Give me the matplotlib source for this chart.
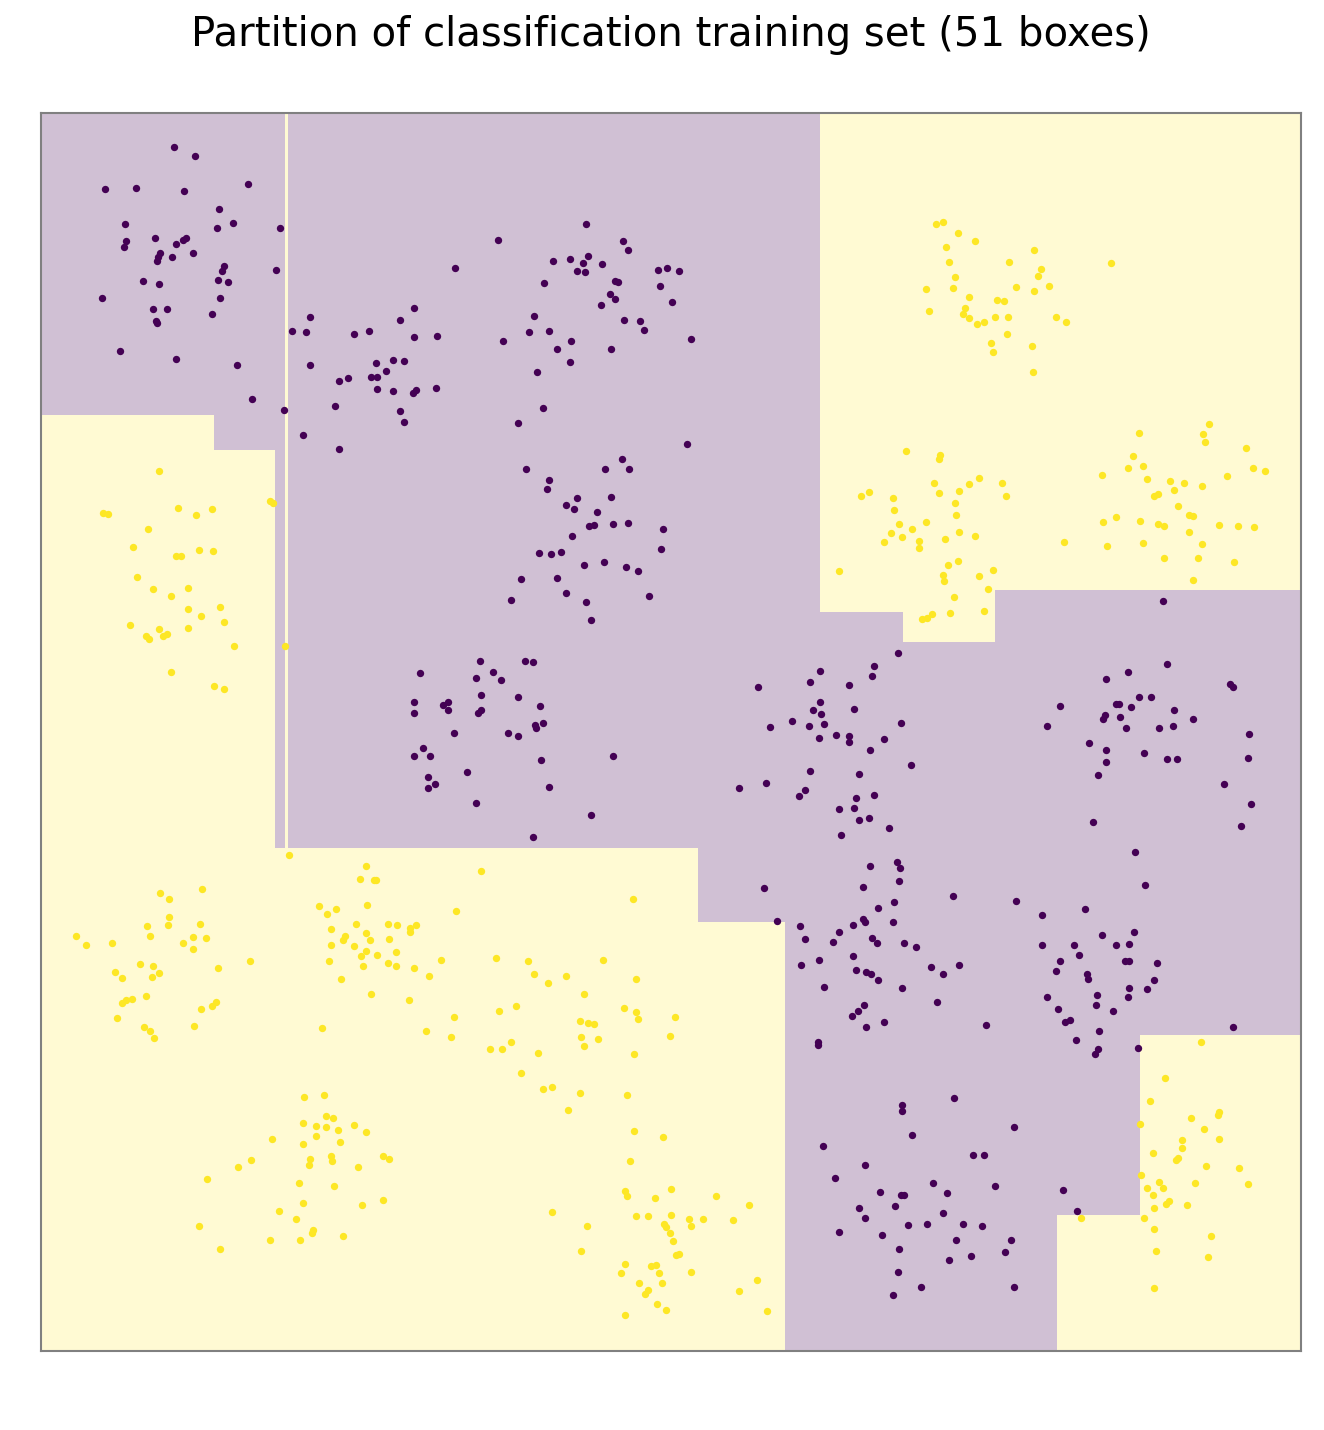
import numpy as np
import matplotlib.pyplot as plt
from matplotlib.patches import Rectangle
from matplotlib.colors import to_rgb

# Feature space (x to the right, y downwards)
x_range = (41, 1301)
y_range = (1351, 113)

# class 0 (purple) training points
purple_pts = [
    # top-left cluster
    (174, 147), (195, 156), (105, 189), (136, 188), (184, 191), (248, 184), (219, 209), (125, 224),
    (233, 223), (217, 228), (280, 228), (155, 238), (126, 241), (124, 247), (186, 238), (183, 240),
    (176, 244), (160, 253), (158, 257), (157, 261), (172, 257), (193, 253), (224, 266), (222, 271),
    (276, 270), (218, 280), (228, 282), (143, 281), (159, 284), (102, 298), (220, 298), (153, 309),
    (167, 309), (212, 314), (156, 321), (157, 323), (120, 351), (176, 359), (237, 365), (252, 399),
    (284, 410),
    # second cluster
    (455, 268), (414, 308), (310, 317), (400, 320), (292, 331), (306, 332), (354, 334), (369, 331),
    (414, 337), (437, 336), (310, 365), (376, 363), (393, 360), (404, 361), (386, 371), (348, 378),
    (339, 381), (371, 377), (377, 377), (377, 389), (393, 391), (413, 393), (416, 390), (436, 388),
    (335, 406), (400, 411), (404, 422), (303, 435), (339, 449),
    # top middle cluster
    (586, 224), (498, 240), (623, 241), (628, 250), (553, 261), (570, 259), (588, 256), (583, 263),
    (602, 264), (577, 271), (585, 272), (658, 270), (667, 268), (679, 271), (615, 281), (618, 282),
    (544, 283), (660, 286), (610, 294), (615, 299), (601, 305), (672, 302), (534, 316), (624, 320),
    (640, 321), (644, 330), (529, 332), (549, 331), (503, 341), (571, 341), (691, 339), (557, 349),
    (611, 349), (570, 362), (537, 372), (543, 408), (518, 423),
    # middle cluster
    (687, 444), (622, 459), (526, 469), (605, 469), (629, 469), (549, 480), (547, 489), (577, 498),
    (611, 497), (566, 505), (574, 509), (597, 512), (589, 526), (594, 525), (613, 524), (628, 523),
    (663, 529), (572, 536), (539, 553), (551, 554), (561, 552), (661, 549), (584, 565), (604, 562),
    (626, 567), (638, 571), (521, 579), (557, 578), (566, 593), (511, 600), (586, 602), (649, 596),
    (591, 620),
    # middle-left cluster
    (420, 673), (414, 702), (414, 713), (443, 705), (448, 702), (448, 710), (454, 733), (423, 748),
    (414, 756), (430, 756), (428, 777), (435, 784), (428, 788), (480, 661), (525, 661), (533, 662),
    (493, 672), (476, 678), (501, 680), (481, 695), (518, 697), (540, 706), (478, 713), (481, 710),
    (535, 725), (543, 723), (536, 728), (508, 733), (518, 736), (541, 760), (613, 756), (467, 772),
    (549, 787), (476, 803), (591, 815), (533, 837),
    # centre cluster
    (898, 653), (901, 723), (758, 687), (820, 671), (810, 682), (849, 685), (820, 702), (813, 710),
    (821, 714), (854, 709), (792, 721), (770, 727), (809, 726), (824, 724), (874, 666), (872, 676),
    (819, 738), (836, 735), (849, 736), (849, 742), (870, 750), (810, 771), (859, 774), (739, 788),
    (766, 783), (805, 790), (799, 796), (856, 798), (874, 795), (839, 809), (854, 808), (859, 820),
    (869, 818), (841, 835), (884, 739), (911, 765), (889, 828),
    # right cluster
    (1163, 601), (1167, 664), (1128, 672), (1106, 679), (1230, 684), (1233, 687), (1139, 697),
    (1151, 697), (1060, 706), (1116, 704), (1119, 704), (1131, 707), (1174, 710), (1105, 715),
    (1103, 719), (1120, 717), (1193, 719), (1047, 726), (1126, 728), (1159, 728), (1173, 726),
    (1249, 734), (1089, 743), (1106, 750), (1106, 762), (1144, 753), (1167, 759), (1177, 759),
    (1248, 758), (1098, 775), (1224, 784), (1251, 804), (1241, 826), (1093, 822), (1135, 852),
    (1145, 885),
    # lower centre cluster
    (870, 866), (764, 888), (863, 887), (878, 908), (777, 921), (800, 926), (805, 939), (839, 932),
    (833, 942), (853, 925), (863, 919), (865, 922), (872, 938), (877, 943), (853, 956), (801, 965),
    (819, 960), (856, 970), (866, 972), (871, 974), (878, 980), (824, 987), (864, 1005), (858, 1011),
    (852, 1016), (866, 1027), (818, 1042), (897, 862), (900, 868), (899, 881), (953, 896), (894, 902),
    (893, 922), (904, 943), (916, 947), (931, 967), (959, 965), (943, 974), (902, 988), (937, 1002),
    (884, 1022), (986, 1025), (1016, 901),
    # lower right cluster
    (1085, 909), (1042, 915), (1134, 932), (1102, 935), (1042, 945), (1074, 945), (1116, 945),
    (1129, 944), (1079, 955), (1060, 961), (1125, 961), (1129, 961), (1157, 963), (1056, 971),
    (1087, 974), (1088, 979), (1154, 980), (1129, 988), (1147, 989), (1097, 995), (1128, 997),
    (1047, 997), (1096, 1005), (1058, 1009), (1113, 1011), (1065, 1022), (1070, 1020), (1099, 1031),
    (1233, 1027), (1076, 1040), (1098, 1049), (1095, 1054), (1138, 1048),
    # bottom cluster
    (818, 1045), (823, 1146), (865, 1165), (835, 1178), (880, 1192), (859, 1208), (865, 1218),
    (839, 1232), (882, 1235), (954, 1098), (902, 1105), (902, 1111), (1014, 1127), (912, 1135),
    (973, 1155), (984, 1155), (933, 1183), (995, 1186), (1063, 1190), (901, 1195), (904, 1195),
    (947, 1193), (895, 1206), (943, 1213), (1077, 1211), (908, 1225), (927, 1224), (963, 1224),
    (982, 1226), (956, 1240), (1011, 1240), (899, 1249), (1005, 1252), (971, 1256), (949, 1260),
    (898, 1272), (921, 1287), (1014, 1287), (893, 1295),
]

# class 1 (yellow) training points
yellow_pts = [
    # top right cluster
    (936, 224), (943, 222), (958, 233), (975, 241), (946, 247), (1034, 250), (949, 262), (1009, 262),
    (1041, 269), (1038, 276), (1111, 263), (955, 277), (926, 289), (953, 288), (1016, 287),
    (1049, 286), (1034, 291), (969, 297), (997, 300), (1004, 301), (929, 311), (965, 308), (963, 314),
    (969, 318), (977, 324), (984, 322), (995, 317), (1008, 317), (1056, 317), (1066, 322),
    (1007, 334), (991, 343), (993, 352), (1032, 346), (1033, 372),
    # right middle cluster
    (906, 451), (940, 455), (939, 459), (934, 483), (939, 493), (959, 491), (969, 484), (979, 478),
    (1002, 483), (1006, 496), (893, 498), (894, 510), (955, 503), (956, 515), (899, 524), (891, 533),
    (902, 537), (912, 529), (926, 522), (945, 539), (959, 532), (975, 536), (919, 541), (919, 548),
    (884, 542), (1064, 542), (958, 561), (948, 565), (943, 575), (944, 581), (979, 576), (993, 570),
    (988, 589), (954, 597), (922, 619), (927, 618), (932, 614), (950, 613), (984, 611), (861, 496),
    (869, 492), (839, 571),
    # far right cluster
    (1139, 433), (1203, 434), (1209, 424), (1205, 442), (1133, 456), (1128, 468), (1143, 466),
    (1102, 475), (1147, 479), (1170, 481), (1184, 483), (1202, 486), (1246, 448), (1227, 476),
    (1253, 468), (1265, 471), (1174, 490), (1154, 496), (1158, 494), (1178, 506), (1189, 515),
    (1193, 516), (1103, 522), (1116, 517), (1140, 521), (1158, 524), (1164, 526), (1189, 532),
    (1219, 525), (1238, 526), (1254, 527), (1107, 546), (1143, 543), (1202, 544), (1164, 558),
    (1198, 558), (1234, 562), (1193, 580),
    # left cluster
    (159, 471), (103, 513), (108, 514), (178, 508), (196, 515), (212, 509), (270, 501), (273, 503),
    (148, 529), (133, 547), (199, 550), (213, 551), (176, 556), (181, 556), (137, 577), (153, 589),
    (188, 588), (171, 596), (188, 609), (220, 607), (201, 616), (224, 622), (130, 625), (159, 629),
    (188, 628), (146, 636), (149, 639), (163, 636), (167, 634), (234, 646), (285, 646), (171, 672),
    (214, 686), (224, 689),
    # lower left cluster
    (289, 855), (202, 889), (160, 893), (169, 899), (169, 917), (168, 925), (147, 926), (200, 924),
    (76, 936), (150, 936), (193, 937), (206, 938), (86, 945), (112, 943), (183, 943), (193, 949),
    (250, 961), (140, 964), (153, 966), (218, 968), (115, 972), (122, 978), (152, 977), (159, 973),
    (146, 996), (122, 1003), (126, 1000), (132, 999), (201, 1009), (212, 1006), (216, 1002),
    (117, 1018), (194, 1026), (144, 1027), (150, 1031), (154, 1038),
    # second lower cluster
    (366, 866), (360, 879), (374, 880), (376, 880), (367, 905), (319, 906), (327, 914), (336, 909),
    (456, 911), (356, 924), (388, 924), (397, 925), (416, 925), (410, 928), (410, 932), (331, 929),
    (345, 936), (343, 940), (366, 933), (370, 940), (389, 939), (331, 945), (354, 946), (366, 951),
    (361, 956), (377, 955), (396, 952), (329, 961), (363, 966), (388, 963), (396, 966), (414, 968),
    (441, 960), (341, 979), (429, 976), (371, 994), (409, 1000), (454, 1017), (322, 1028),
    (426, 1031), (451, 1037),
    # lower middle cluster
    (481, 871), (633, 899), (496, 958), (528, 961), (603, 960), (534, 974), (548, 983), (566, 976),
    (636, 979), (584, 994), (499, 1011), (516, 1006), (624, 1008), (636, 1012), (638, 1019),
    (675, 1017), (580, 1021), (588, 1023), (594, 1024), (581, 1037), (598, 1039), (670, 1036),
    (511, 1042), (490, 1049), (502, 1049), (538, 1053), (584, 1046), (634, 1054), (521, 1073),
    (543, 1089), (552, 1087), (580, 1093), (627, 1095), (568, 1110), (634, 1131), (663, 1137),
    (630, 1161),
    # bottom left cluster
    (304, 1097), (324, 1095), (326, 1116), (333, 1118), (303, 1123), (316, 1126), (326, 1127),
    (338, 1130), (354, 1125), (366, 1132), (316, 1136), (272, 1139), (303, 1144), (340, 1142),
    (251, 1160), (238, 1167), (310, 1159), (309, 1165), (331, 1156), (332, 1161), (383, 1156),
    (389, 1159), (358, 1167), (207, 1179), (299, 1183), (334, 1186), (303, 1203), (383, 1200),
    (362, 1205), (279, 1211), (296, 1219), (199, 1226), (313, 1230), (312, 1233), (343, 1236),
    (270, 1240), (300, 1240), (220, 1249),
    # bottom middle cluster
    (625, 1191), (627, 1196), (671, 1189), (655, 1198), (716, 1196), (749, 1205), (552, 1212),
    (636, 1216), (648, 1216), (671, 1215), (689, 1219), (703, 1219), (733, 1220), (664, 1224),
    (666, 1227), (691, 1226), (587, 1226), (670, 1233), (673, 1241), (581, 1251), (676, 1255),
    (679, 1254), (625, 1264), (621, 1273), (651, 1266), (656, 1265), (659, 1273), (691, 1272),
    (639, 1283), (662, 1283), (648, 1290), (645, 1294), (757, 1280), (739, 1291), (657, 1304),
    (666, 1310), (767, 1311), (625, 1315),
    # bottom right cluster
    (1201, 1042), (1165, 1078), (1150, 1101), (1219, 1112), (1218, 1115), (1191, 1118), (1140, 1124),
    (1204, 1129), (1182, 1140), (1219, 1139), (1182, 1148), (1153, 1153), (1176, 1160), (1178, 1158),
    (1206, 1166), (1239, 1168), (1141, 1175), (1159, 1182), (1163, 1188), (1147, 1188), (1195, 1183),
    (1248, 1184), (1153, 1195), (1166, 1204), (1169, 1201), (1187, 1205), (1154, 1208), (1081, 1218),
    (1144, 1218), (1154, 1229), (1211, 1236), (1156, 1251), (1208, 1257), (1154, 1288),
]

# partition boxes labelled class 0 (x0, x1, y0, y1); the rest of the space is class 1
purple_boxes = [
    (41, 820, 113, 415),
    (214, 275, 415, 450),
    (275, 820, 415, 848),
    (698, 785, 848, 922),
    (785, 1057, 642, 1351),
    (820, 903, 612, 642),
    (995, 1301, 590, 642),
    (1057, 1140, 642, 1215),
    (1140, 1301, 642, 1035),
]
# very thin class 1 box cutting through the purple area
yellow_boxes = [
    (284.5, 287.5, 113, 848),
]

c0 = np.array(to_rgb('#440154'))
c1 = np.array(to_rgb('#fde725'))
bg0 = 1 - 0.25 * (1 - c0)
bg1 = 1 - 0.2 * (1 - c1)

fig = plt.figure(figsize=(13.24, 14.30), dpi=100)
ax = fig.add_axes([41 / 1324, 79 / 1430, 1260 / 1324, 1238 / 1430])
ax.set_facecolor(bg1)

for x0, x1, y0, y1 in purple_boxes:
    ax.add_patch(Rectangle((x0, y0), x1 - x0, y1 - y0, facecolor=bg0, edgecolor='none', zorder=1))
for x0, x1, y0, y1 in yellow_boxes:
    ax.add_patch(Rectangle((x0, y0), x1 - x0, y1 - y0, facecolor=bg1, edgecolor='none', zorder=1))

p0 = np.array(purple_pts)
p1 = np.array(yellow_pts)
ax.scatter(p0[:, 0], p0[:, 1], s=28, color=c0, linewidths=0, zorder=3)
ax.scatter(p1[:, 0], p1[:, 1], s=28, color=c1, linewidths=0, zorder=3)

ax.set_xlim(*x_range)
ax.set_ylim(*y_range)
ax.set_xticks([])
ax.set_yticks([])
for sp in ax.spines.values():
    sp.set_color('0.5')
    sp.set_linewidth(1.5)

fig.suptitle('Partition of classification training set (51 boxes)', fontsize=29,
             x=671 / 1324, y=1 - 35 / 1430, va='center')

fig.savefig('out.png', dpi=100)
